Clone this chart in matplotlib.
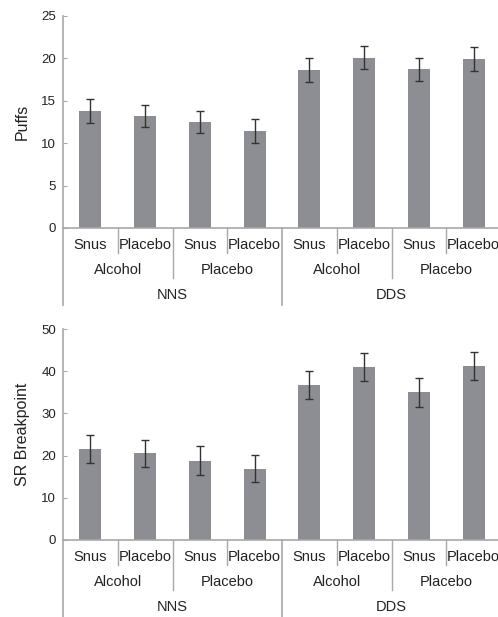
import matplotlib.pyplot as plt
from matplotlib.transforms import blended_transform_factory

plt.rcParams['font.family'] = ['Liberation Sans', 'DejaVu Sans']

# drink / snus / group levels of the x axis
snus_labels = ['Snus', 'Placebo'] * 4
drink_labels = ['Alcohol', 'Placebo', 'Alcohol', 'Placebo']
group_labels = ['NNS', 'DDS']

puffs = [13.8, 13.2, 12.5, 11.4, 18.6, 20.1, 18.7, 19.9]
puffs_err = [1.4, 1.3, 1.35, 1.4, 1.4, 1.4, 1.35, 1.4]

breakpoint = [21.6, 20.5, 18.8, 16.9, 36.7, 40.9, 35.0, 41.2]
breakpoint_err = [3.3, 3.3, 3.4, 3.2, 3.4, 3.3, 3.4, 3.3]

bar_color = '#8d8e93'
line_color = '#a8a8a8'
text_color = '#222222'

W, H = 498, 617
fig = plt.figure(figsize=(W / 100, H / 100), dpi=100)


def panel(top_px, bottom_px, values, errs, ymax, ystep, ylabel):
    ax_h = bottom_px - top_px
    ax = fig.add_axes([63 / W, 1 - bottom_px / H, 438 / W, ax_h / H])
    x = range(len(values))
    ax.bar(x, values, width=0.4, color=bar_color, zorder=2)
    ax.errorbar(x, values, yerr=errs, fmt='none', ecolor='#333333',
                elinewidth=1.0, capsize=3, capthick=1.0, zorder=3)
    ax.set_xlim(-0.5, 7.5)
    ax.set_ylim(0, ymax)
    ax.set_yticks(range(0, ymax + 1, ystep))
    ax.set_xticks([])
    for s in ['top', 'right']:
        ax.spines[s].set_visible(False)
    for s in ['left', 'bottom']:
        ax.spines[s].set_color(line_color)
        ax.spines[s].set_linewidth(1.2)
    ax.tick_params(axis='y', direction='in', length=3, color=line_color,
                   labelsize=9.5, labelcolor=text_color, pad=5)
    ax.set_ylabel(ylabel, fontsize=11.5, color=text_color, labelpad=8)

    tr = blended_transform_factory(ax.transData, ax.transAxes)

    def down(px):
        return -px / ax_h

    # separators below the axis
    for xs in [0.5, 2.5, 4.5, 6.5]:
        ax.plot([xs, xs], [0, down(25)], color=line_color, lw=1,
                transform=tr, clip_on=False)
    for xs in [1.5, 5.5]:
        ax.plot([xs, xs], [0, down(50)], color=line_color, lw=1,
                transform=tr, clip_on=False)
    for xs in [-0.5, 3.5, 7.5]:
        ax.plot([xs, xs], [0, down(77)], color=line_color, lw=1.2,
                transform=tr, clip_on=False)

    for i, lab in enumerate(snus_labels):
        ax.text(i, down(17), lab, transform=tr, ha='center', va='center',
                fontsize=10.5, color=text_color)
    for i, lab in enumerate(drink_labels):
        ax.text(2 * i + 0.5, down(42), lab, transform=tr, ha='center',
                va='center', fontsize=10.5, color=text_color)
    for i, lab in enumerate(group_labels):
        ax.text(4 * i + 1.5, down(67), lab, transform=tr, ha='center',
                va='center', fontsize=10.5, color=text_color)
    return ax


panel(16, 228, puffs, puffs_err, 25, 5, 'Puffs')
panel(329, 540, breakpoint, breakpoint_err, 50, 10, 'SR Breakpoint')

fig.savefig('out.png', dpi=100)
